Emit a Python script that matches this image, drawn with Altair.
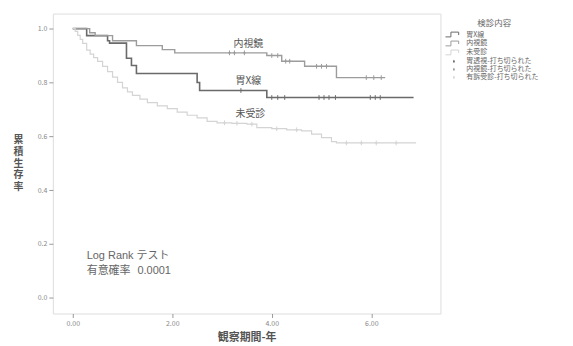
import altair as alt
import pandas as pd

FONT = "Noto Sans CJK JP"

groups = ["胃X線", "内視鏡", "未受診"]
censor_names = ["胃透視-打ち切られた", "内視鏡-打ち切られた", "有訴受診-打ち切られた"]
entries = groups + censor_names
entry_colors = ["#6a6a6a", "#9c9c9c", "#d4d4d4", "#6a6a6a", "#9c9c9c", "#d4d4d4"]

# step curves (time in years, cumulative survival)
xray_t = [0, 0.28, 0.70, 0.74, 1.08, 1.18, 1.28, 2.50, 2.55, 3.90, 6.85]
xray_s = [1.0, 0.974, 0.955, 0.946, 0.89, 0.863, 0.833, 0.80, 0.77, 0.744, 0.744]

endo_t = [0, 0.34, 0.45, 0.80, 1.28, 1.80, 2.05, 3.90, 4.20, 4.66, 5.30, 6.28]
endo_s = [1.0, 0.985, 0.974, 0.955, 0.937, 0.922, 0.91, 0.90, 0.879, 0.86, 0.818, 0.818]

none_t = [0, 0.05, 0.10, 0.15, 0.20, 0.28, 0.35, 0.42, 0.50, 0.60, 0.70, 0.80, 0.90,
          1.00, 1.10, 1.20, 1.35, 1.50, 1.70, 1.90, 2.10, 2.30, 2.50, 2.70, 2.90,
          3.20, 3.50, 3.70, 4.00, 4.30, 4.60, 4.80, 5.00, 5.20, 5.30, 6.90]
none_s = [1.0, 0.99, 0.975, 0.96, 0.945, 0.92, 0.905, 0.892, 0.878, 0.86, 0.84, 0.82, 0.80,
          0.78, 0.765, 0.752, 0.738, 0.725, 0.713, 0.703, 0.69, 0.678, 0.668, 0.655, 0.650,
          0.648, 0.645, 0.632, 0.628, 0.624, 0.62, 0.608, 0.595, 0.58, 0.575, 0.575]

# censored times
xray_c = [3.38, 4.00, 4.12, 4.26, 4.95, 5.05, 5.15, 5.28, 5.98, 6.08, 6.18]
endo_c = [3.15, 3.25, 3.45, 4.00, 4.12, 4.28, 4.36, 4.90, 5.00, 5.10, 5.90, 6.05, 6.20]
none_c = [3.05, 3.30, 3.60, 4.10, 4.50, 5.50, 5.80, 6.10, 6.50]

curve_t = [xray_t, endo_t, none_t]
curve_s = [xray_s, endo_s, none_s]
cens_t = [xray_c, endo_c, none_c]


def surv_at(ts, ss, t):
    v = ss[0]
    for ti, si in zip(ts, ss):
        if ti <= t:
            v = si
    return v


rows = []
for g, ts, ss in zip(groups, curve_t, curve_s):
    for i, (t, s) in enumerate(zip(ts, ss)):
        rows.append({"entry": g, "t": t, "s": s, "order": i})
lines_df = pd.DataFrame(rows)

crow = []
for cname, ts, ss, cs in zip(censor_names, curve_t, curve_s, cens_t):
    for t in cs:
        crow.append({"entry": cname, "t": t, "s": surv_at(ts, ss, t)})
cens_df = pd.DataFrame(crow)

label_text = ["内視鏡", "胃X線", "未受診"]
label_t = [3.53, 3.53, 3.57]
label_s = [0.944, 0.804, 0.681]
labels_df = pd.DataFrame({"txt": label_text, "t": label_t, "s": label_s})

note_text = ["Log Rank テスト", "有意確率", "0.0001"]
note_t = [0.28, 0.28, 1.30]
note_s = [0.156, 0.100, 0.100]
notes_df = pd.DataFrame({"txt": note_text, "t": note_t, "s": note_s})

x_scale = alt.Scale(domain=[-0.40, 7.39], nice=False, zero=False)
y_scale = alt.Scale(domain=[-0.059, 1.056], nice=False, zero=False)

x_enc = alt.X("t:Q", scale=x_scale,
              axis=alt.Axis(values=[0, 2, 4, 6], format=".2f", title="観察期間-年",
                            grid=False, domain=False, tickColor="#999", tickSize=4,
                            labelFontSize=7, labelColor="#888", labelPadding=2,
                            titleFontSize=11, titleFontWeight="bold", titleColor="#555",
                            titlePadding=5))
y_enc = alt.Y("s:Q", scale=y_scale,
              axis=alt.Axis(values=[0, 0.2, 0.4, 0.6, 0.8, 1.0], format=".1f",
                            title=["累", "積", "生", "存", "率"], titleAngle=0,
                            titleX=-35, titleY=126, titleAlign="center",
                            titleBaseline="middle", titleLineHeight=12,
                            grid=False, domain=False, tickColor="#999", tickSize=4,
                            labelFontSize=7, labelColor="#888", labelPadding=2,
                            titleFontSize=10, titleFontWeight="bold", titleColor="#555"))

# legend glyphs (wide step for curves, plus sign for censored cases)
step_path = "M-2.8,0.8H-1.0V-0.8H1.6V0.2"
plus_path = "M0,-0.5V0.5M-0.3,0H0.3"

color_scale = alt.Scale(domain=entries, range=entry_colors)
legend_spec = alt.Legend(title="検診内容", orient="none", legendX=399, legendY=5,
                         titleFontSize=8.5, titleFontWeight="normal",
                         titleColor="#666", titleAnchor="middle",
                         labelFontSize=7, labelColor="#666", labelLimit=300,
                         symbolSize=36, symbolStrokeWidth=1, rowPadding=0,
                         labelOffset=9, titlePadding=4)

lines = alt.Chart(lines_df).mark_line(interpolate="step-after").encode(
    x=x_enc, y=y_enc,
    color=alt.Color("entry:N", scale=color_scale, legend=legend_spec),
    strokeWidth=alt.StrokeWidth("entry:N", scale=alt.Scale(domain=groups, range=[1.6, 1.2, 1.0]),
                                legend=None),
    order="order:Q",
)

cens = alt.Chart(cens_df).mark_point(filled=False, size=90, strokeWidth=1, opacity=1).encode(
    x="t:Q", y="s:Q",
    color=alt.Color("entry:N", scale=color_scale, legend=legend_spec),
    shape=alt.Shape("entry:N", scale=alt.Scale(domain=entries,
                                              range=[step_path, step_path, step_path,
                                                     plus_path, plus_path, plus_path]),
                    legend=legend_spec),
)

labels = alt.Chart(labels_df).mark_text(fontSize=10, color="#555", font=FONT).encode(
    x="t:Q", y="s:Q", text="txt:N")

notes = alt.Chart(notes_df).mark_text(fontSize=11, color="#666",
                                      font="Liberation Sans, Noto Sans CJK JP",
                                      align="left").encode(
    x="t:Q", y="s:Q", text="txt:N")

chart = alt.layer(lines, cens, labels, notes).properties(
    width=389, height=301,
    padding={"left": 45, "top": 5, "right": 125, "bottom": 30},
    autosize=alt.AutoSizeParams(type="none"),
    background="white",
).configure_view(stroke="#a8a8a8", strokeWidth=1).configure(font=FONT)

chart.save("out.html", embed_options={"renderer": "svg", "actions": False})
